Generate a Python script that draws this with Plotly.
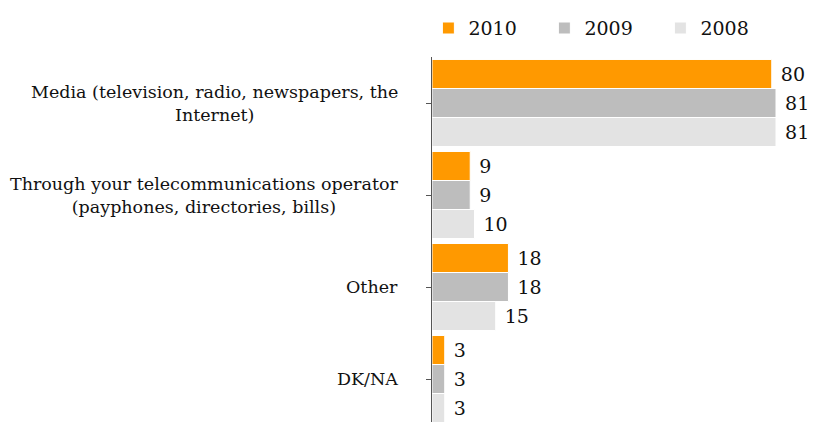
import plotly.graph_objects as go

categories = [
    "Media (television, radio, newspapers, the<br>Internet)",
    "Through your telecommunications operator<br>(payphones, directories, bills)",
    "Other",
    "DK/NA",
]
years = ["2010", "2009", "2008"]
values_2010 = [80, 9, 18, 3]
values_2009 = [81, 9, 18, 3]
values_2008 = [81, 10, 15, 3]
colors = ["#FF9900", "#BDBDBD", "#E3E3E3"]

FONT = "DejaVu Serif"

fig = go.Figure()
for name, vals, col in zip(years, [values_2010, values_2009, values_2008], colors):
    fig.add_trace(go.Bar(
        y=list(range(len(categories))),
        x=vals,
        name=name,
        orientation="h",
        marker=dict(color=col, line=dict(color="white", width=1)),
        text=vals,
        texttemplate="\u00a0%{x}",
        textposition="outside",
        textfont=dict(family=FONT, size=19, color="#111111"),
        cliponaxis=False,
    ))

# category labels, centred line by line, right-aligned against the axis
for i, cat in enumerate(categories):
    fig.add_annotation(
        x=0, y=i, xref="x", yref="y",
        text=cat, showarrow=False,
        xanchor="right", yanchor="middle", align="center",
        xshift=-32,
        font=dict(family=FONT, size=17.5, color="#111111"),
    )

fig.update_layout(
    width=813, height=422,
    margin=dict(l=432, r=20, t=57, b=0, autoexpand=False),
    paper_bgcolor="white", plot_bgcolor="white",
    barmode="group", bargap=0.054, bargroupgap=0,
    showlegend=True,
    legend=dict(
        orientation="h", x=-0.01, xanchor="left", y=1.079, yanchor="middle",
        font=dict(family=FONT, size=19, color="#111111"),
        entrywidth=71, entrywidthmode="pixels",
        traceorder="normal",
    ),
    xaxis=dict(range=[0, 85], visible=False, fixedrange=True),
    yaxis=dict(
        range=[3.467, -0.5],
        tickmode="array",
        tickvals=list(range(len(categories))),
        ticktext=[""] * len(categories),
        tickson="boundaries",
        ticks="outside", ticklen=5, tickcolor="#555555",
        showline=True, linecolor="#555555", linewidth=1,
        showgrid=False, zeroline=False,
    ),
)

fig.write_html("out.html")
